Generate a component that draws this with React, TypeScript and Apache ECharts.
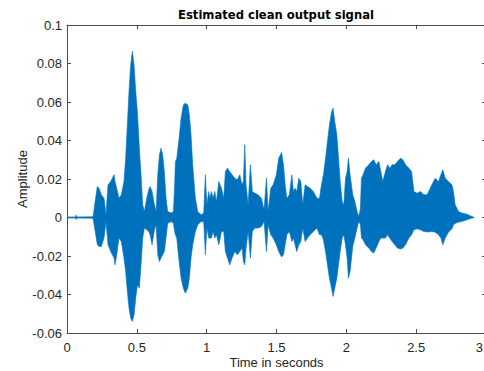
import React, { useEffect, useRef } from "react";
import * as echarts from "echarts";

// Envelope of the waveform (seconds, amplitude)
const times = [
  0.0, 0.06, 0.066, 0.072, 0.185, 0.19, 0.198, 0.217, 0.229, 0.246, 0.265, 0.279, 0.294, 0.313, 0.337, 0.344,
  0.356, 0.372, 0.389, 0.408, 0.42, 0.432, 0.444, 0.456, 0.468, 0.48, 0.492, 0.504, 0.518, 0.53, 0.542, 0.554,
  0.571, 0.585, 0.595, 0.609, 0.626, 0.638, 0.65, 0.662, 0.673, 0.685, 0.697, 0.709, 0.721, 0.745, 0.762, 0.771,
  0.776, 0.786, 0.8, 0.817, 0.833, 0.847, 0.865, 0.876, 0.888, 0.9, 0.919, 0.936, 0.96, 0.979, 0.991, 1.001,
  1.015, 1.022, 1.034, 1.046, 1.058, 1.07, 1.087, 1.106, 1.122, 1.134, 1.149, 1.165, 1.182, 1.201, 1.22, 1.237,
  1.254, 1.263, 1.273, 1.282, 1.297, 1.313, 1.327, 1.344, 1.368, 1.392, 1.411, 1.428, 1.44, 1.459, 1.476, 1.499,
  1.516, 1.536, 1.55, 1.562, 1.574, 1.592, 1.61, 1.621, 1.633, 1.645, 1.66, 1.674, 1.688, 1.705, 1.722, 1.741,
  1.764, 1.789, 1.808, 1.822, 1.836, 1.851, 1.865, 1.879, 1.894, 1.905, 1.917, 1.932, 1.944, 1.956, 1.97, 1.982,
  1.994, 2.006, 2.015, 2.027, 2.046, 2.061, 2.077, 2.089, 2.101, 2.108, 2.12, 2.137, 2.161, 2.18, 2.197, 2.213,
  2.233, 2.247, 2.261, 2.28, 2.295, 2.311, 2.328, 2.347, 2.366, 2.388, 2.405, 2.424, 2.448, 2.467, 2.484, 2.507,
  2.531, 2.555, 2.579, 2.612, 2.636, 2.66, 2.677, 2.691, 2.708, 2.731, 2.756, 2.767, 2.779, 2.803, 2.827, 2.863,
  2.899, 2.915,
];
const upper = [
  0.0003, 0.0003, 0.0012, 0.0003, 0.0004, 0.002, 0.0066, 0.0161, 0.0152, 0.0118, 0.01, 0.0014, 0.017, 0.0187, 0.0222, 0.0187,
  0.0152, 0.01, 0.0118, 0.0187, 0.0308, 0.0481, 0.0655, 0.0793, 0.0863, 0.0793, 0.0655, 0.055, 0.036, 0.0222, 0.0066, 0.0031,
  0.01, 0.0144, 0.0161, 0.0135, 0.0066, 0.0031, 0.0222, 0.0326, 0.036, 0.0326, 0.0239, 0.01, 0.0031, 0.0023, 0.0031, 0.017,
  0.029, 0.0308, 0.0395, 0.0516, 0.0585, 0.0594, 0.0585, 0.0533, 0.043, 0.0274, 0.01, 0.0031, 0.0014, 0.0023, 0.0222, 0.0066,
  0.0135, 0.01, 0.0135, 0.01, 0.0135, 0.0083, 0.0187, 0.0152, 0.01, 0.0239, 0.0256, 0.0239, 0.0222, 0.0204, 0.0196, 0.0222,
  0.017, 0.0187, 0.0378, 0.017, 0.0066, 0.0274, 0.0135, 0.0126, 0.0118, 0.01, 0.004, 0.0204, 0.0031, 0.0152, 0.017, 0.0222,
  0.0308, 0.0338, 0.0274, 0.017, 0.01, 0.0118, 0.0222, 0.0135, 0.0152, 0.0135, 0.0204, 0.0187, 0.0066, 0.017, 0.0161, 0.0152,
  0.0135, 0.01, 0.01, 0.017, 0.0222, 0.0308, 0.0395, 0.0481, 0.0547, 0.0568, 0.0499, 0.043, 0.0308, 0.0187, 0.0083, 0.0066,
  0.0204, 0.0239, 0.0308, 0.0222, 0.0118, 0.0083, 0.0031, 0.0005, 0.0048, 0.0204, 0.0222, 0.0256, 0.0274, 0.0291, 0.03, 0.0274,
  0.0291, 0.0239, 0.0187, 0.0239, 0.0274, 0.0256, 0.0274, 0.0274, 0.0291, 0.0308, 0.03, 0.0274, 0.0256, 0.0239, 0.0135, 0.0126,
  0.0135, 0.0118, 0.0118, 0.017, 0.0204, 0.0187, 0.0222, 0.0248, 0.0204, 0.0187, 0.017, 0.0135, 0.0066, 0.0031, 0.0023, 0.0017,
  0.0005, 0.0001,
];
const lower = [
  -0.0003, -0.0003, -0.001, -0.0003, -0.0004, -0.002, -0.0055, -0.0142, -0.0151, -0.0151, -0.0107, -0.0021, -0.0142, -0.0177, -0.0211, -0.0246,
  -0.0194, -0.0107, -0.0125, -0.0211, -0.028, -0.0385, -0.0471, -0.0523, -0.054, -0.0506, -0.0419, -0.035, -0.0367, -0.0246, -0.0107, -0.0055,
  -0.0064, -0.0073, -0.009, -0.0142, -0.0064, -0.0038, -0.0194, -0.0229, -0.0211, -0.0194, -0.0177, -0.0107, -0.003, -0.0021, -0.003, -0.0073,
  -0.009, -0.0107, -0.0211, -0.0315, -0.0367, -0.0393, -0.0367, -0.0315, -0.0211, -0.0142, -0.0073, -0.0038, -0.0021, -0.0024, -0.0194, -0.0055,
  -0.0107, -0.0107, -0.0107, -0.0073, -0.0107, -0.009, -0.0142, -0.0073, -0.0073, -0.0177, -0.0211, -0.0246, -0.0211, -0.0177, -0.0194, -0.0177,
  -0.0159, -0.0229, -0.0246, -0.0159, -0.0073, -0.0211, -0.0073, -0.0055, -0.0055, -0.0047, -0.0021, -0.0177, -0.0038, -0.009, -0.0107, -0.0142,
  -0.0177, -0.0205, -0.0194, -0.0142, -0.009, -0.0073, -0.0125, -0.0107, -0.0142, -0.0177, -0.0142, -0.0125, -0.0055, -0.0125, -0.0107, -0.009,
  -0.0073, -0.0055, -0.009, -0.009, -0.0116, -0.0177, -0.0246, -0.0315, -0.0367, -0.041, -0.0367, -0.0315, -0.0246, -0.0177, -0.0107, -0.009,
  -0.0142, -0.0211, -0.0315, -0.028, -0.015, -0.0107, -0.0055, -0.0021, -0.0038, -0.0107, -0.0116, -0.0142, -0.0159, -0.0177, -0.0185, -0.0159,
  -0.0125, -0.0107, -0.0107, -0.0107, -0.009, -0.0107, -0.0125, -0.0142, -0.0159, -0.0163, -0.0159, -0.0142, -0.0107, -0.009, -0.0064, -0.0059,
  -0.0064, -0.0073, -0.0075, -0.0073, -0.0076, -0.009, -0.0107, -0.0142, -0.0107, -0.0076, -0.0059, -0.0038, -0.0031, -0.0024, -0.0021, -0.0012,
  -0.0003, -0.0001,
];

const TITLE = "Estimated clean output signal";
const X_NAME = "Time in seconds";
const Y_NAME = "Amplitude";

const FONT = "'Liberation Sans', Arial, Helvetica, sans-serif";
const AXIS_COLOR = "#4d4d4d";
const LABEL_COLOR = "#262626";
const WAVE = "#0072BD";

export default function App() {
  const ref = useRef<HTMLDivElement>(null);

  useEffect(() => {
    if (!ref.current) return;
    const chart = echarts.init(ref.current, null, { renderer: "svg" });
    const data = times.map((t, i) => [t, upper[i], lower[i]]);

    const tick = { show: true, inside: true, length: 4, lineStyle: { color: AXIS_COLOR, width: 1 } };
    const line = { show: true, onZero: false, lineStyle: { color: AXIS_COLOR, width: 1 } };
    const label = { color: LABEL_COLOR, fontSize: 13, fontFamily: FONT };

    chart.setOption({
      animation: false,
      backgroundColor: "#ffffff",
      grid: { left: 67, right: -2, top: 25, bottom: 38, containLabel: false, outerBoundsMode: "none" },
      graphic: [
        {
          type: "text",
          x: 276,
          y: 15,
          style: {
            text: TITLE,
            fill: "#000",
            font: "bold 11.6px 'DejaVu Sans', sans-serif",
            textAlign: "center",
            textVerticalAlign: "middle",
          },
        },
      ],
      xAxis: [
        {
          type: "value",
          min: 0,
          max: 3,
          interval: 0.5,
          position: "bottom",
          axisLine: line,
          axisTick: tick,
          axisLabel: {
            ...label,
            margin: 8,
            hideOverlap: false,
            alignMaxLabel: "right",
            formatter: (v: number) => (v === 3 ? "{e|3}" : String(v)),
            rich: { e: { ...label, padding: [0, 3, 0, 0] } },
          },
          splitLine: { show: false },
          name: X_NAME,
          nameLocation: "middle",
          nameGap: 23,
          nameMoveOverlap: false,
          nameTextStyle: { color: LABEL_COLOR, fontSize: 13, lineHeight: 13, fontFamily: FONT },
        },
        {
          type: "value",
          min: 0,
          max: 3,
          interval: 0.5,
          position: "top",
          axisLine: line,
          axisTick: tick,
          axisLabel: { show: false },
          splitLine: { show: false },
        },
      ],
      yAxis: [
        {
          type: "value",
          min: -0.06,
          max: 0.1,
          interval: 0.02,
          position: "left",
          axisLine: line,
          axisTick: tick,
          axisLabel: {
            ...label,
            margin: 5,
            formatter: (v: number) => String(parseFloat(v.toFixed(2))),
          },
          splitLine: { show: false },
          name: Y_NAME,
          nameLocation: "middle",
          nameGap: 38,
          nameMoveOverlap: false,
          nameRotate: 90,
          nameTextStyle: { color: LABEL_COLOR, fontSize: 13, lineHeight: 13, fontFamily: FONT },
        },
        {
          type: "value",
          min: -0.06,
          max: 0.1,
          interval: 0.02,
          position: "right",
          axisLine: line,
          axisTick: tick,
          axisLabel: { show: false },
          splitLine: { show: false },
        },
      ],
      series: [
        {
          type: "custom",
          xAxisIndex: 0,
          yAxisIndex: 0,
          data,
          encode: { x: 0, y: [1, 2] },
          clip: true,
          renderItem: (params: any, api: any) => {
            if (params.dataIndex !== 0) return null;
            const pts: number[][] = [];
            for (let i = 0; i < times.length; i++) pts.push(api.coord([times[i], upper[i]]));
            for (let i = times.length - 1; i >= 0; i--) pts.push(api.coord([times[i], lower[i]]));
            return {
              type: "polygon",
              shape: { points: pts },
              style: { fill: WAVE, stroke: WAVE, lineWidth: 0.6 },
            };
          },
        },
      ],
    });
    return () => chart.dispose();
  }, []);

  return (
    <div
      style={{ position: "absolute", left: 0, top: 0, width: 484, height: 371, overflow: "hidden", background: "#fff" }}
    >
      <div ref={ref} style={{ width: 484, height: 371 }} />
    </div>
  );
}
